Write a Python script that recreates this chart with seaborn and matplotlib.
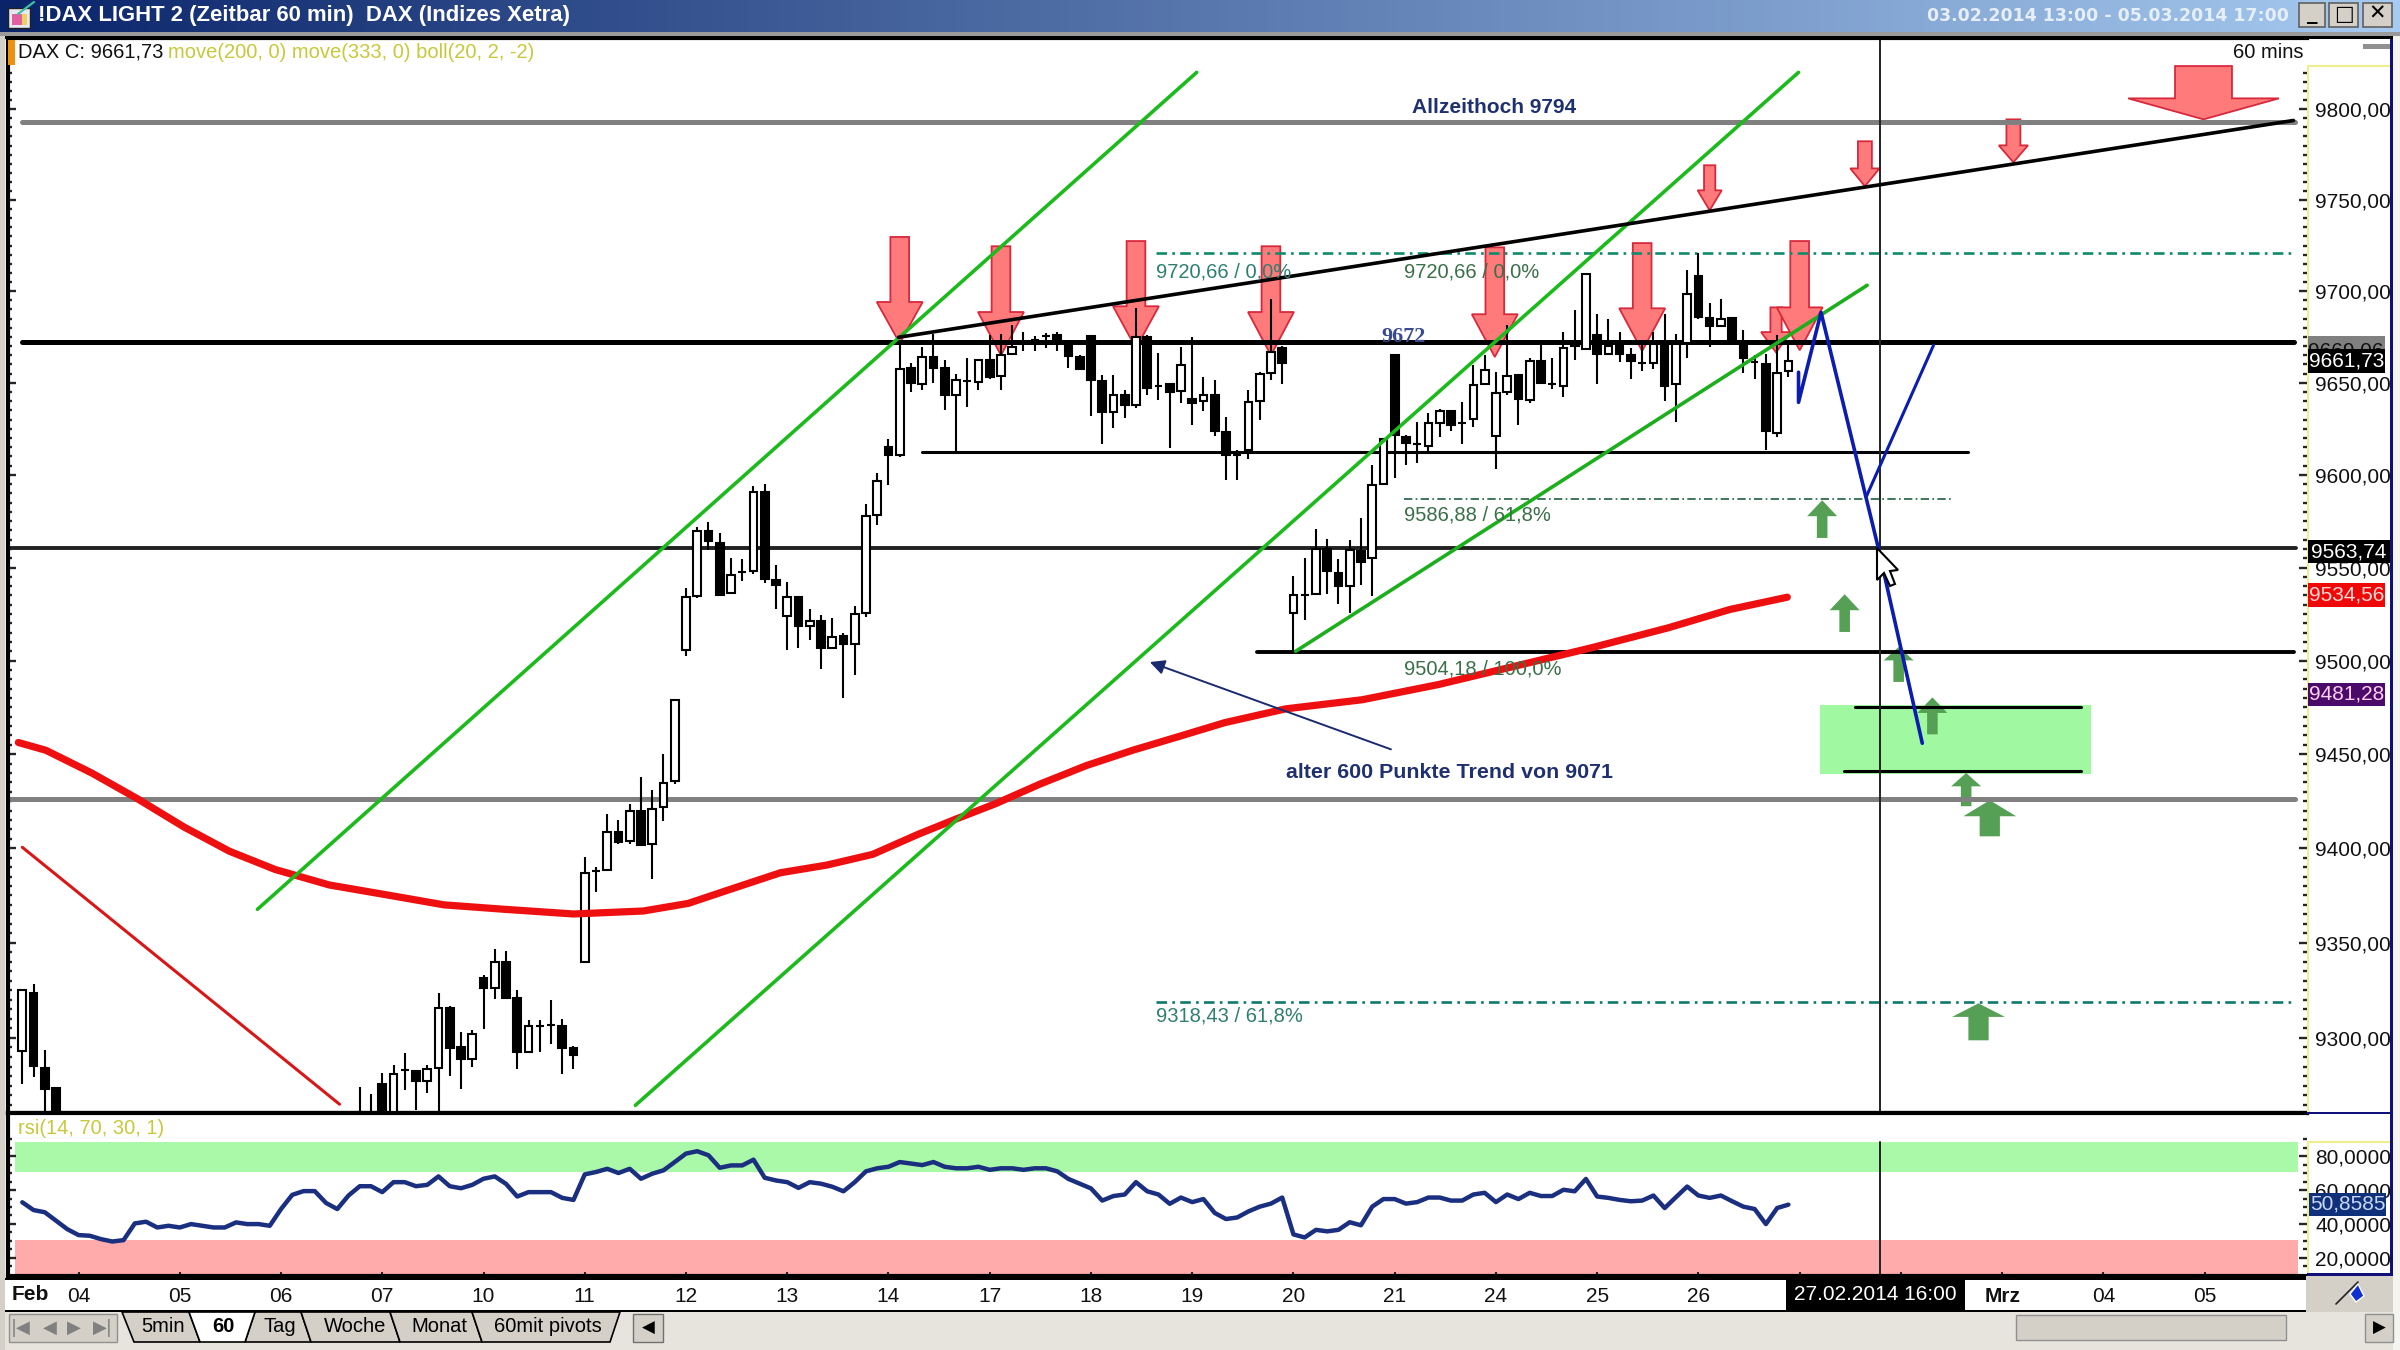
import numpy as np
import matplotlib
matplotlib.use('Agg')
import matplotlib.pyplot as plt
from matplotlib.colors import LinearSegmentedColormap
from matplotlib.patches import Rectangle, Polygon
from matplotlib.ticker import NullFormatter
import seaborn as sns

sns.set_theme(style='white')
plt.rcParams['font.family'] = ['Liberation Sans', 'DejaVu Sans']

# hourly candles, x is the bar number counted from 04 Feb 09:00
candle_bars = [-5, -4, -3, -2] + list(range(25, 153))
candle_open = [9293.2, 9324.6, 9284.2, 9273.3,
    9250, 9250, 9275.6, 9250, 9282.8, 9282.4, 9277, 9284, 9316.5, 9295.4, 9289, 9332.7, 9327.3, 9340.8, 9321.7, 9292.7,
    9306.5, 9307.4, 9306.5, 9294.5, 9341.1, 9390, 9390.8, 9411, 9406, 9422.4, 9404.3, 9424.5, 9438.3, 9508.9, 9538.1,
    9572.9, 9566.6, 9539.4, 9550.7, 9551.4, 9594.1, 9546.9, 9527.2, 9537.6, 9522, 9524.5, 9509.8, 9516.4, 9512.1, 9529,
    9581.9, 9618.3, 9613.8, 9660.8, 9652.4, 9666.7, 9660.8, 9646.5, 9653.8, 9653.3, 9665, 9656.3, 9668.2, 9674.8, 9676,
    9677.9, 9678.8, 9673.9, 9666.7, 9677.9, 9653.6, 9637.1, 9646.5, 9641.1, 9677.5, 9651.1, 9652.4, 9648.3, 9644.3, 9643,
    9646.5, 9626.4, 9614.2, 9616.5, 9643, 9658.3, 9671.8, 9529.1, 9538.4, 9539, 9563.5, 9550.4, 9543.2, 9562.3, 9558.5,
    9598.6, 9667.6, 9623.7, 9620.1, 9618.7, 9631.2, 9637.7, 9630.9, 9633.2, 9652, 9624, 9647.9, 9656.9, 9643.4, 9664.6,
    9651.9, 9651.1, 9673.9, 9671.2, 9678.8, 9668.2, 9673.6, 9667.6, 9663.5, 9663.5, 9673.6, 9652.4, 9674.3, 9710.2,
    9687.9, 9683.4, 9687.9, 9673, 9664, 9662.8, 9626, 9659.2]
candle_high = [9326, 9329.4, 9293.6, 9273.3,
    9274, 9270, 9281.4, 9285.5, 9292.3, 9282.8, 9285.5, 9324.6, 9317.2, 9303.4, 9304.3, 9334, 9347.9, 9347, 9325.9, 9309.7,
    9309.7, 9320.8, 9310.6, 9295.7, 9397.6, 9392.2, 9420.6, 9417.4, 9426, 9440.7, 9433.5, 9452.9, 9482, 9542.6, 9575.2,
    9577.9, 9571.7, 9558.7, 9557.8, 9597.1, 9598.2, 9554.6, 9545.6, 9537.6, 9531.3, 9527.7, 9526.3, 9518.2, 9532.5, 9587.8,
    9604.3, 9622.4, 9676, 9663.5, 9672.1, 9679.3, 9665, 9657.8, 9665.9, 9665, 9678.4, 9679.3, 9683.8, 9680.2, 9677.9,
    9679.7, 9680.2, 9675.7, 9667.6, 9678.8, 9656.9, 9656.9, 9648.8, 9693.3, 9678.4, 9668.9, 9652.4, 9672.1, 9677.2, 9656,
    9654.5, 9634.5, 9616.9, 9648.8, 9658.7, 9698.1, 9672.5, 9548.6, 9558.7, 9574, 9568.9, 9557.8, 9568, 9580, 9608.4,
    9622.8, 9668.5, 9624.6, 9631.8, 9636.6, 9638.9, 9637.7, 9642.5, 9662.3, 9667.6, 9658.7, 9683.8, 9656.9, 9665.9, 9673.6,
    9665.9, 9680.2, 9692.2, 9711.2, 9690, 9687, 9680.2, 9671.8, 9674.8, 9680.2, 9690, 9679.3, 9713.4, 9722.4,
    9695.5, 9698.1, 9687.9, 9681.1, 9667.6, 9668.5, 9678.4, 9674.8]
candle_low = [9275.6, 9278.9, 9250, 9230,
    9245, 9245, 9240, 9245, 9272.4, 9261.6, 9270.6, 9250, 9279.6, 9272.6, 9284.6, 9304.9, 9321, 9321.4, 9283.7, 9292.1,
    9292.7, 9296.8, 9280.6, 9283.7, 9340.6, 9378.8, 9390, 9404.8, 9404.8, 9403.4, 9385.6, 9417, 9437.1, 9505.8, 9537.2,
    9562.7, 9538.1, 9539, 9546, 9550, 9545.1, 9530.9, 9508.9, 9509.8, 9514.6, 9498.6, 9509.8, 9483.4, 9495.4, 9526.8,
    9576.1, 9597.7, 9612.9, 9647.9, 9648.8, 9652.9, 9638, 9615.6, 9639.8, 9648.8, 9655.1, 9648.8, 9667.6, 9670, 9670,
    9671.8, 9670, 9661, 9660.1, 9634.8, 9619.7, 9628.7, 9633.6, 9639, 9646.1, 9643.8, 9617.8, 9642, 9630, 9637.7,
    9624, 9600.7, 9600.7, 9611.7, 9633, 9654.2, 9652, 9507.9, 9525, 9538.4, 9539, 9533.9, 9529, 9543.8, 9538,
    9598.6, 9601.8, 9608.4, 9609.7, 9616.2, 9623.7, 9626.9, 9619.7, 9629.1, 9651.5, 9606.6, 9646.1, 9630, 9642, 9652,
    9649.2, 9645.2, 9665.3, 9671.2, 9652, 9668.2, 9664, 9655.1, 9659, 9660.5, 9643, 9631.8, 9666.4, 9687.4,
    9672.1, 9683.4, 9674.8, 9658.1, 9655.1, 9616.5, 9623.7, 9656]
candle_close = [9325.9, 9285, 9272.6, 9240,
    9255, 9248, 9250, 9281, 9282.8, 9276.9, 9283.2, 9316.5, 9294.8, 9288.7, 9302.2, 9327.1, 9340.8, 9321.9, 9292.7, 9306.5,
    9306.5, 9307.4, 9294.8, 9290.9, 9389, 9390, 9411, 9405.7, 9422.4, 9403.9, 9423.3, 9437.4, 9482, 9537.6, 9572.9,
    9567.5, 9538.8, 9549.6, 9550.7, 9594.1, 9547.1, 9544.2, 9537.6, 9522, 9524.5, 9509.8, 9516, 9512.1, 9528.6, 9581,
    9600, 9613.8, 9660.5, 9652.9, 9666.7, 9661, 9646.1, 9654.5, 9653.8, 9665, 9656, 9667.6, 9672.1, 9674.8, 9676,
    9677.9, 9674.8, 9667.1, 9660.1, 9654.2, 9637.1, 9646.5, 9641.1, 9677.5, 9650.2, 9651.1, 9647.9, 9662.6, 9642, 9646.5,
    9626.9, 9613.8, 9614.2, 9642.5, 9657.8, 9669.4, 9663.2, 9538.4, 9538.4, 9563.5, 9551.3, 9543.2, 9562.6, 9556.3, 9597.6,
    9622.3, 9624.6, 9620.5, 9620.1, 9631.2, 9637.5, 9630, 9630.9, 9651.5, 9659.6, 9647.4, 9656.5, 9644.3, 9664.6, 9652.7,
    9651.9, 9671.8, 9672.5, 9711.2, 9668.2, 9672.5, 9668.2, 9664.6, 9663.5, 9673.6, 9651.1, 9673.9, 9700.8, 9688.3,
    9683.4, 9687.4, 9674.8, 9666.2, 9664, 9626.9, 9658.1, 9664.4]

# red 200 period average
ma_bars = [-5.35, -2.9, 1.2, 5.3, 9.35, 13.4, 17.5, 22.3, 27, 32.5, 37.9, 44, 50.2, 54.2, 58.3, 62.4, 66.5, 70.6, 74.6, 78,
           81.5, 85.5, 89.6, 93.7, 97.8, 101.9, 107.3, 114.1, 120.9, 127.7, 134.5, 141.3, 146.8, 151.9]
ma_values = [9459.2, 9455, 9442.7, 9428.7, 9413.8, 9400.7, 9390.8, 9382.5, 9377.6, 9371.8, 9369.4, 9366.9, 9368.5, 9372.6,
             9380.9, 9389.1, 9393.2, 9399, 9409.7, 9418, 9426.2, 9436.9, 9446.8, 9455, 9462.4, 9469.9, 9477.3, 9482.2,
             9490.4, 9500.3, 9510.2, 9520.9, 9530.8, 9537.4]

# rsi, one value per bar from -5 to 152
rsi_bars = list(range(-5, 153))
rsi_values = [52.8, 48.2, 46.9, 41.9, 36.9, 33.4, 33, 31, 29.6, 30.4, 40.3, 41.3, 37.9, 38.9, 37.9, 39.9, 38.9, 37.9, 37.9,
    40.9, 39.9, 39.9, 38.9, 48.8, 57.2, 59.4, 59.4, 52.4, 48.8, 56.8, 62.3, 62.3, 58.8, 64.7, 64.7, 62.3, 63.1, 68.1, 62.3,
    61.1, 63.1, 66.7, 68.1, 63.7, 56.2, 58.8, 58.8, 58.8, 55.4, 54.2, 69.3, 70.7, 72.6, 70.1, 72.6, 66.7, 69.7, 71.7, 76.6,
    81.6, 83, 80.6, 73.2, 74.6, 74.6, 78, 67.3, 65.7, 64.7, 61.3, 64.7, 63.8, 62, 59.3, 64.7, 71.1, 72.9, 73.8, 76.6, 75.7,
    74.8, 76.6, 73.8, 72.9, 72.9, 73.8, 72, 72.9, 72.9, 72, 72.9, 72.9, 71.1, 66.6, 63.8, 61, 53.8, 56.5, 57.4, 64.7, 59.3,
    57.4, 51.9, 55.6, 52.9, 54.7, 46.5, 42.9, 43.8, 47.4, 50.2, 52, 55.6, 33.8, 32, 36.5, 35.6, 36.5, 41, 39.2, 50.2, 54.7,
    54.7, 52, 52.9, 55.6, 55.6, 53.8, 53.8, 57.4, 58.4, 52.9, 57.4, 54.7, 58.4, 56.5, 56.5, 60.2, 59.3, 66.6, 56.2, 55.4,
    54.2, 53.4, 53.8, 56.8, 49.4, 55.8, 62.1, 56.8, 55.4, 56.8, 53.4, 50.2, 48.8, 39.9, 49.4, 51.4]

# drawn levels: price, first bar, last bar
allzeit_level = [9793.2, -5, 197]
level_9672 = [9674.7, -5, 196.9]
level_9563 = [9563.7, -6.3, 197.1]
level_9507 = [9507.7, 104.8, 196.9]
level_9429 = [9429, -6.3, 197]
level_9615 = [9615.6, 75, 168]
box_top_level = [9478.3, 157.9, 178]
box_bottom_level = [9443.8, 156.9, 178]
fib_0 = [9722.5, 95.8, 196.8]
fib_618_upper = [9590, 117.8, 166.6]
fib_618_lower = [9319.6, 95.8, 196.8]

target_box_bars = [154.8, 178.9]
target_box_prices = [9442.1, 9479.2]
cross_bar = 160.1

black_trend_bars = [72.9, 196.9]
black_trend_prices = [9677.3, 9794]
green1_bars = [15.9, 99.4]
green1_prices = [9369.4, 9819.9]
green2_bars = [49.5, 152.9]
green2_prices = [9263.9, 9819.9]
green3_bars = [108.2, 159]
green3_prices = [9508.3, 9705.3]
red_down_bars = [-5, 23.2]
red_down_prices = [9402.8, 9264.5]
blue1_bars = [152.9, 152.9, 154.9, 160, 163.9]
blue1_prices = [9658.5, 9642.3, 9690.7, 9563.7, 9458.8]
blue2_bars = [158.9, 164.9]
blue2_prices = [9591.2, 9673]

# arrows
red_bars = [73, 82, 94, 106, 125.9, 139, 150.9, 153, 145, 158.8, 172, 188.9]
red_top = [9731.3, 9726.3, 9729.1, 9726.3, 9725.7, 9728, 9693.4, 9729.1, 9769.9, 9782.8, 9794.6, 9823.3]
red_neck = [9696.3, 9690.9, 9694, 9690.9, 9689.7, 9692.9, 9680.1, 9693.4, 9756.4, 9768.2, 9780.6, 9805.9]
red_tip = [9674.1, 9667.6, 9671.4, 9667.6, 9666.7, 9669.9, 9669.2, 9670.3, 9745.6, 9758.6, 9771.5, 9794.6]
red_head = [2.04, 2.04, 2.04, 2.04, 2.04, 2.04, 1.33, 2.04, 1.07, 1.3, 1.3, 6.7]
red_shaft = [0.83, 0.83, 0.83, 0.83, 0.83, 0.83, 0.5, 0.83, 0.5, 0.62, 0.62, 2.53]

green_bars = [155, 157, 161.8, 164.8, 167.8, 169.9, 168.9]
green_tip = [9589.6, 9539, 9510.6, 9483.5, 9442.8, 9428.1, 9318.8]
green_neck = [9581, 9530.4, 9503.4, 9475.1, 9435.6, 9419.5, 9311.5]
green_base = [9569.3, 9518.7, 9491.8, 9463.6, 9424.9, 9408.7, 9298.9]
green_head = [1.33, 1.33, 1.33, 1.33, 1.33, 2.35, 2.35]
green_shaft = [0.47, 0.47, 0.47, 0.47, 0.47, 0.9, 0.9]

# 27 and 28 sit under the black date tag
day_labels = ['04', '05', '06', '07', '10', '11', '12', '13', '14', '17', '18', '19', '20', '21', '24', '25', '26',
              '', '', 'Mrz', '04', '05']
price_ticks = [9300, 9350, 9400, 9450, 9500, 9550, 9600, 9650, 9700, 9750, 9800]
rsi_ticks = [20, 40, 60, 80]


def cal(p):
    # prices above were read with a straight ruler of 1.858 px per point, the chart scale is logarithmic
    return 9800 * np.exp(-(9800 - np.asarray(p, dtype=float)) * 1.858 / 17733)


fig = plt.figure(figsize=(24, 13.5), dpi=100, facecolor='white')
W, H = 2400, 1350


def rect_from_px(x0, y0, x1, y1):
    return [x0 / W, 1 - y1 / H, (x1 - x0) / W, (y1 - y0) / H]


ax = fig.add_axes(rect_from_px(8, 38, 2307, 1113), zorder=2)
ax_rsi = fig.add_axes(rect_from_px(8, 1113, 2307, 1276), zorder=2)
ov = fig.add_axes([0, 0, 1, 1], zorder=5)   # window chrome in pixels
ov.patch.set_alpha(0)
ax.set_yscale('log')


def line(axis, xs, ys, color, lw, z, ls='-'):
    sns.lineplot(x=xs, y=ys, ax=axis, color=color, linewidth=lw, sort=False, estimator=None,
                 linestyle=ls, legend=False, zorder=z)


def level(lv, color, lw, ls='-', z=2):
    p = float(cal(lv[0]))
    line(ax, [lv[1], lv[2]], [p, p], color, lw, z, ls)


# ---- main pane
box_low, box_high = cal(target_box_prices)
ax.add_patch(Rectangle((target_box_bars[0], box_low), target_box_bars[1] - target_box_bars[0],
                       box_high - box_low, color='#a0f8a0', lw=0, zorder=0.5))

for b, t, n, tp, hd, sh in zip(red_bars, cal(red_top), cal(red_neck), cal(red_tip), red_head, red_shaft):
    ax.fill([b - sh, b + sh, b + sh, b + hd, b, b - hd, b - sh], [t, t, n, n, tp, n, n],
            facecolor='#ff7b7b', edgecolor='#d8283c', lw=1.3, zorder=1)
for b, tp, n, bs, hd, sh in zip(green_bars, cal(green_tip), cal(green_neck), cal(green_base), green_head, green_shaft):
    ax.fill([b, b + hd, b + sh, b + sh, b - sh, b - sh, b - hd], [tp, n, n, bs, bs, n, n],
            facecolor='#55a055', edgecolor='none', zorder=1)

level(allzeit_level, '#808080', 3.6)
level(level_9672, 'black', 3.6)
level(level_9563, '#222222', 2.8)
level(level_9507, 'black', 2.8)
level(level_9429, '#808080', 3.6)
level(level_9615, 'black', 2.2)
level(box_top_level, 'black', 2.2)
level(box_bottom_level, 'black', 2.2)
level(fib_0, '#0f8a6c', 1.9, (0, (4, 2, 1, 2)))
level(fib_618_upper, '#1f5f3f', 1.2, (0, (5, 2, 1, 2)))
level(fib_618_lower, '#0f7a6c', 1.9, (0, (4, 2, 1, 2)))

ax.axvline(cross_bar, color='#222222', lw=1.4, zorder=2)

# candles
c_bars = np.array(candle_bars, dtype=float)
c_open = cal(candle_open)
c_close = cal(candle_close)
ax.vlines(c_bars, cal(candle_low), cal(candle_high), color='black', lw=1.5, zorder=3)
up = c_close > c_open
ax.bar(c_bars[up], (c_close - c_open)[up], bottom=c_open[up], width=0.68, facecolor='white',
       edgecolor='black', linewidth=1.5, zorder=3.2)
ax.bar(c_bars[~up], (c_close - c_open)[~up], bottom=c_open[~up], width=0.68, facecolor='black',
       edgecolor='black', linewidth=1.5, zorder=3.2)

line(ax, ma_bars, cal(ma_values), '#ee1010', 5.2, 3.5)
line(ax, red_down_bars, cal(red_down_prices), '#d81818', 2.2, 4)
line(ax, green1_bars, cal(green1_prices), '#1cba1c', 2.6, 4)
line(ax, green2_bars, cal(green2_prices), '#1cba1c', 2.6, 4)
line(ax, green3_bars, cal(green3_prices), '#1cae1c', 2.6, 4)
line(ax, black_trend_bars, cal(black_trend_prices), 'black', 2.6, 4)
line(ax, blue1_bars, cal(blue1_prices), '#0c1cae', 2.6, 5)
line(ax, blue2_bars, cal(blue2_prices), '#0c1cae', 2.2, 5)

ax.annotate('', xy=(95, float(cal(9503))), xytext=(116.9, float(cal(9455))),
            arrowprops=dict(arrowstyle='-|>', color='#1a2a70', lw=1.4, mutation_scale=22), zorder=5)

ax.set_xlim(-6.27, 198.1)
ax.set_ylim(9260.7, 9839.5)
ax.set_xticks([])
ax.set_yticks(price_ticks)
ax.set_yticklabels([f'{p},00' for p in price_ticks], fontsize=15, color='#111111')
ax.set_yticks(np.arange(9265, 9821, 5), minor=True)
ax.yaxis.set_minor_formatter(NullFormatter())
ax.yaxis.set_ticks_position('both')
ax.tick_params(axis='y', which='major', direction='in', length=5.5, width=1.7, labelleft=False, labelright=True, pad=6)
ax.tick_params(axis='y', which='minor', direction='in', length=3, width=1.7)
for side in ('top', 'bottom', 'left'):
    ax.spines[side].set_linewidth(3)
    ax.spines[side].set_color('black')
ax.spines['right'].set_visible(False)

txt_fib = dict(fontsize=14.5, va='center', ha='left', zorder=6)
ax.text(95.8, float(cal(9712.5)), '9720,66 / 0,0%', color='#2f7f70', **txt_fib)
ax.text(117.8, float(cal(9712.5)), '9720,66 / 0,0%', color='#3a6f48', **txt_fib)
ax.text(117.8, float(cal(9581.5)), '9586,88 / 61,8%', color='#3a6f48', **txt_fib)
ax.text(117.8, float(cal(9499)), '9504,18 / 100,0%', color='#3a6f48', **txt_fib)
ax.text(95.8, float(cal(9312)), '9318,43 / 61,8%', color='#2f7f70', **txt_fib)
ax.text(125.8, float(cal(9801.2)), 'Allzeithoch 9794', color='#1f3070', fontsize=15, fontweight='bold',
        ha='center', va='center', zorder=6)
ax.text(115.8, float(cal(9677.5)), '9672', color='#3a4a90', fontsize=16, fontweight='bold', family='Liberation Serif',
        ha='left', va='center', zorder=6)
ax.text(107.3, float(cal(9442.9)), 'alter 600 Punkte Trend von 9071', color='#1f3070', fontsize=15.4, fontweight='bold',
        ha='left', va='center', zorder=6)

# ---- rsi pane
ax_rsi.axhspan(70.5, 88.5, xmin=(15 - 8) / 2299, xmax=(2298 - 8) / 2299, color='#a9f9a9', lw=0, zorder=0.5)
ax_rsi.axhspan(9.2, 30.5, xmin=(15 - 8) / 2299, xmax=(2298 - 8) / 2299, color='#ffabab', lw=0, zorder=0.5)
ax_rsi.plot([cross_bar, cross_bar], [9.2, 88.5], color='#222222', lw=1.4, zorder=1)
line(ax_rsi, rsi_bars, rsi_values, '#1a2f80', 3.2, 3)
ax_rsi.set_xlim(-6.27, 198.1)
ax_rsi.set_ylim(9.2, 105.6)
ax_rsi.set_yticks(rsi_ticks)
ax_rsi.set_yticklabels([f'{v},0000' for v in rsi_ticks], fontsize=15, color='#111111')
ax_rsi.set_yticks([15, 25, 30, 35, 45, 50, 55, 65, 70, 75, 85, 90], minor=True)
ax_rsi.yaxis.set_ticks_position('both')
ax_rsi.tick_params(axis='y', which='major', direction='in', length=5.5, width=1.7, labelleft=False, labelright=True, pad=6)
ax_rsi.tick_params(axis='y', which='minor', direction='in', length=3, width=1.7, labelleft=False)
day_positions = [9 * k for k in range(len(day_labels))]
ax_rsi.set_xticks(day_positions)
ax_rsi.set_xticklabels(day_labels, fontsize=15, color='#111111')
ax_rsi.tick_params(axis='x', direction='in', length=3, width=1.5, pad=8, bottom=True)
for lab in ax_rsi.get_xticklabels():
    if lab.get_text() == 'Mrz':
        lab.set_fontweight('bold')
for side in ('top', 'bottom', 'left'):
    ax_rsi.spines[side].set_linewidth(3)
    ax_rsi.spines[side].set_color('black')
ax_rsi.spines['right'].set_visible(False)

# ---- window chrome
ov.set_xlim(0, W)
ov.set_ylim(H, 0)
ov.axis('off')
cmap = LinearSegmentedColormap.from_list('tb', ['#0a246a', '#a6caf0'])
ov.imshow(np.linspace(0, 1, 256).reshape(1, -1), extent=(0, W, 32, 0), aspect='auto', cmap=cmap, zorder=1)
ov.set_xlim(0, W)
ov.set_ylim(H, 0)


def box(x0, y0, x1, y1, color, z=2, ec='none', lw=0):
    ov.add_patch(Rectangle((x0, y0), x1 - x0, y1 - y0, facecolor=color, edgecolor=ec, lw=lw, zorder=z))


box(0, 32, W, 36, '#9a9a9a')
box(0, 36, 2393, 39, 'black')
box(0, 36, 5, 1350, '#d4d0c8')
box(2393, 36, W, 1350, '#f4f4f0')
# title bar icon
box(8, 8, 30, 28, '#e8e8f0', 3, '#202020', 1)
box(12, 14, 22, 25, '#e060a0', 4)
box(22, 14, 27, 25, '#f0d060', 4)
ov.plot([18, 34], [14, 2], color='#40c0a0', lw=1.6, zorder=4)
ov.text(38, 15, '!DAX LIGHT 2 (Zeitbar 60 min)  DAX (Indizes Xetra)', color='white', fontsize=15.9,
        fontweight='bold', va='center', zorder=3)
ov.text(2289, 16, '03.02.2014 13:00 - 05.03.2014 17:00', color='#e6eef8', fontsize=12.5, fontweight='bold',
        ha='right', va='center', family='DejaVu Sans', zorder=3)
for x0, x1, mark in [(2299, 2325, '_'), (2329, 2358, '\u25a1'), (2363, 2392, '\u2715')]:
    box(x0, 3, x1, 27, '#d4d0c8', 3, '#606060', 1.2)
    ov.text((x0 + x1) / 2, 14, mark, color='black', fontsize=15, fontweight='bold', ha='center', va='center',
            family='DejaVu Sans', zorder=4)

box(8, 40, 15, 65, '#f09010')
ov.text(18, 52, 'DAX C: 9661,73', color='#111111', fontsize=14.5, va='center', zorder=3)
ov.text(168, 52, 'move(200, 0) move(333, 0) boll(20, 2, -2)', color='#c8c83c', fontsize=14.5, va='center', zorder=3)
ov.text(2233, 52, '60 mins', color='#111111', fontsize=14.5, va='center', zorder=3)
ov.text(18, 1129, 'rsi(14, 70, 30, 1)', color='#c8c83c', fontsize=14.5, va='center', zorder=3)

# right hand scale frame
box(2307, 65, 2309, 1113, '#f2ee8a')
box(2307, 65, 2390, 67, '#f2ee8a')
box(2307, 1141, 2309, 1273, '#f2ee8a')
box(2307, 1141, 2390, 1143, '#f2ee8a')
box(2390, 39, 2393, 1276, '#10107a')
box(2307, 1112, 2393, 1114, '#10107a')
box(2307, 1273, 2393, 1276, '#10107a')
box(2363, 44, 2390, 49, '#909090')


def tag(x0, y0, x1, y1, color, text, tcolor, z=4):
    box(x0, y0, x1, y1, color, z)
    ov.text((x0 + x1) / 2, (y0 + y1) / 2, text, color=tcolor, fontsize=15, ha='center', va='center', zorder=z + 0.5)


box(2308, 336, 2385, 350, '#808080', 4)
ov.text(2346, 351, '9669,06', color='#111111', fontsize=15, ha='center', va='center', zorder=4.5)
tag(2308, 349, 2385, 373, 'black', '9661,73', 'white', 5)
tag(2308, 540, 2390, 563, 'black', '9563,74', 'white')
tag(2308, 583, 2385, 607, '#ee0808', '9534,56', '#ffd8d8')
tag(2308, 683, 2385, 706, '#4a0a6a', '9481,28', '#ffd0f0')
tag(2309, 1193, 2386, 1216, '#10307a', '50,8585', '#c8d8f8')

# mouse pointer
ov.add_patch(Polygon([(1877, 548), (1877, 580), (1884, 573), (1890, 586), (1895, 584), (1890, 571), (1898, 570)],
                     facecolor='white', edgecolor='black', lw=1.5, zorder=4))

# date strip and tabs
box(5, 1278, 2306, 1279.5, 'black')
box(5, 1310, 2306, 1312, 'black')
box(2306, 1276, 2393, 1312, '#d4d0c8')
box(5, 1312, 2393, 1350, '#e6e4dc')
ov.text(30, 1295, 'Feb', color='#111111', fontsize=15, fontweight='bold', ha='center', va='center', zorder=4)
tag(1786, 1280, 1965, 1310, 'black', '27.02.2014 16:00', 'white')
ov.plot([2336, 2358], [1304, 1282], color='#222222', lw=1.2, zorder=4)
ov.add_patch(Polygon([(2350, 1294), (2358, 1284), (2364, 1296), (2356, 1302)], facecolor='#1030d0', zorder=4))

box(9, 1314, 117, 1342, '#d4d0c8', 3, '#909090', 1)
for x0, mark in [(21, '|\u25c0'), (50, '\u25c0'), (74, '\u25b6'), (103, '\u25b6|')]:
    ov.text(x0, 1328, mark, color='#808080', fontsize=13, ha='center', va='center', family='DejaVu Sans', zorder=4)

tab_names = ['5min', '60', 'Tag', 'Woche', 'Monat', '60mit pivots']
tab_centres = [163, 223, 280, 355, 439, 548]
tab_shapes = [[(122, 1312), (189, 1312), (200, 1342), (134, 1342)],
              [(189, 1312), (255, 1312), (245, 1342), (200, 1342)],
              [(255, 1312), (301, 1312), (311, 1342), (245, 1342)],
              [(301, 1312), (390, 1312), (400, 1342), (311, 1342)],
              [(390, 1312), (472, 1312), (482, 1342), (400, 1342)],
              [(472, 1312), (620, 1312), (610, 1342), (482, 1342)]]
for name, centre, shape in zip(tab_names, tab_centres, tab_shapes):
    selected = name == '60'
    ov.add_patch(Polygon(shape, facecolor='white' if selected else '#d4d0c8', edgecolor='black', lw=1.2,
                         zorder=3 + selected))
    ov.text(centre, 1327, name, color='black', fontsize=14.5, ha='center', va='center',
            fontweight='bold' if selected else 'normal', zorder=5)
box(633, 1314, 663, 1342, '#d4d0c8', 3, '#707070', 1)
ov.text(648, 1328, '\u25c0', color='black', fontsize=12, ha='center', va='center', family='DejaVu Sans', zorder=4)
box(2016, 1315, 2286, 1340, '#d4d0c8', 3, '#909090', 1)
box(2365, 1314, 2393, 1342, '#d4d0c8', 3, '#909090', 1)
ov.text(2379, 1328, '\u25b6', color='black', fontsize=12, ha='center', va='center', family='DejaVu Sans', zorder=4)

fig.savefig('out.png', dpi=100)
